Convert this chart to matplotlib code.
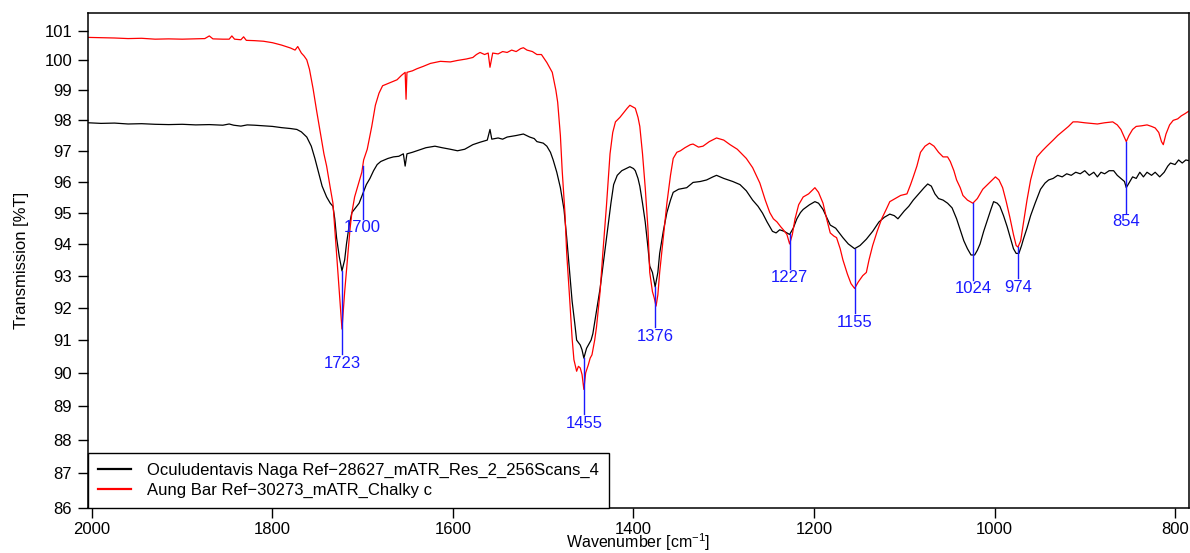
import numpy as np
import matplotlib
matplotlib.use("Agg")
import matplotlib.pyplot as plt
from matplotlib.ticker import NullLocator, FixedLocator, FixedFormatter

# =========================
# DATA
# =========================
BLACK_LABEL = "Oculudentavis Naga Ref\u221228627_mATR_Res_2_256Scans_4"
RED_LABEL = "Aung Bar Ref\u221230273_mATR_Chalky c"

black_wn = [2004, 1990, 1975, 1960, 1945, 1930, 1915, 1900, 1885, 1870, 1855, 1848, 1843, 1835,
            1828, 1820, 1810, 1800, 1790, 1780, 1773, 1768, 1762, 1757, 1753, 1749, 1745, 1740,
            1736, 1733, 1731, 1729, 1726, 1723, 1720, 1718, 1715, 1712, 1708, 1704, 1700, 1696,
            1692, 1688, 1684, 1680, 1676, 1672, 1666, 1660, 1655, 1653, 1651, 1645, 1640, 1630,
            1620, 1612, 1603, 1595, 1587, 1578, 1570, 1562, 1559, 1557, 1550, 1545, 1540, 1530,
            1522, 1515, 1510, 1507, 1500, 1496, 1492, 1489, 1485, 1481, 1477, 1474, 1471, 1468,
            1465, 1463, 1459, 1457, 1455, 1452, 1450, 1447, 1445, 1441, 1437, 1433, 1429, 1425,
            1422, 1418, 1413, 1408, 1404, 1400, 1398, 1395, 1393, 1390, 1387, 1384, 1382, 1379,
            1376, 1373, 1371, 1367, 1363, 1359, 1356, 1350, 1341, 1334, 1326, 1319, 1312, 1308,
            1300, 1290, 1282, 1275, 1268, 1262, 1257, 1252, 1246, 1242, 1238, 1233, 1227, 1223,
            1219, 1215, 1212, 1205, 1199, 1195, 1190, 1186, 1182, 1176, 1168, 1162, 1155, 1149,
            1142, 1135, 1128, 1122, 1116, 1111, 1107, 1100, 1095, 1090, 1084, 1078, 1074, 1070,
            1066, 1062, 1057, 1052, 1047, 1042, 1038, 1034, 1030, 1026, 1022, 1019, 1016, 1012,
            1008, 1004, 1001, 997, 994, 990, 986, 982, 979, 976, 973, 970, 968, 964,
            960, 955, 949, 944, 940, 935, 930, 925, 920, 915, 910, 905, 900, 895,
            890, 886, 882, 878, 873, 868, 864, 860, 856, 854, 851, 847, 843, 839,
            835, 831, 826, 822, 817, 812, 808, 805, 800, 796, 792, 788, 785]
black_t = [97.92, 97.90, 97.91, 97.88, 97.89, 97.87, 97.86, 97.87, 97.85, 97.86, 97.84, 97.88, 97.84, 97.81,
           97.85, 97.84, 97.82, 97.80, 97.76, 97.73, 97.70, 97.62, 97.45, 97.15, 96.75, 96.30, 95.85, 95.50,
           95.30, 95.20, 94.80, 94.20, 93.60, 93.15, 93.50, 94.00, 94.60, 95.00, 95.15, 95.30, 95.60, 95.90,
           96.10, 96.35, 96.55, 96.65, 96.70, 96.75, 96.80, 96.82, 96.90, 96.50, 96.90, 96.95, 97.00, 97.10,
           97.15, 97.10, 97.05, 97.00, 97.05, 97.20, 97.28, 97.35, 97.70, 97.38, 97.42, 97.38, 97.45, 97.50,
           97.55, 97.45, 97.40, 97.30, 97.25, 97.15, 96.95, 96.70, 96.30, 95.80, 95.10, 94.20, 93.20, 92.20,
           91.50, 91.00, 90.85, 90.70, 90.45, 90.75, 90.85, 91.00, 91.20, 91.90, 92.60, 93.50, 94.40, 95.30,
           95.90, 96.20, 96.35, 96.42, 96.48, 96.42, 96.35, 96.10, 95.85, 95.30, 94.70, 93.90, 93.30, 93.10,
           92.65, 93.10, 93.70, 94.40, 95.00, 95.40, 95.65, 95.75, 95.80, 95.97, 96.00, 96.05, 96.15, 96.20,
           96.10, 96.00, 95.90, 95.70, 95.40, 95.20, 94.98, 94.70, 94.40, 94.35, 94.45, 94.40, 94.30, 94.50,
           94.80, 95.00, 95.10, 95.25, 95.35, 95.30, 95.10, 94.85, 94.60, 94.50, 94.20, 94.00, 93.85, 93.95,
           94.15, 94.40, 94.70, 94.85, 94.95, 94.90, 94.80, 95.05, 95.20, 95.40, 95.60, 95.80, 95.92, 95.85,
           95.60, 95.45, 95.40, 95.30, 95.15, 94.80, 94.45, 94.10, 93.85, 93.65, 93.65, 93.80, 94.00, 94.40,
           94.75, 95.10, 95.35, 95.30, 95.20, 94.90, 94.55, 94.15, 93.85, 93.70, 93.70, 93.95, 94.15, 94.50,
           94.90, 95.30, 95.75, 95.95, 96.05, 96.10, 96.20, 96.15, 96.25, 96.20, 96.30, 96.25, 96.35, 96.20,
           96.30, 96.15, 96.30, 96.25, 96.35, 96.35, 96.20, 96.10, 96.00, 95.80, 95.95, 96.15, 96.10, 96.30,
           96.15, 96.30, 96.20, 96.30, 96.15, 96.30, 96.50, 96.60, 96.55, 96.70, 96.60, 96.70, 96.68]

red_wn = [2004, 1990, 1975, 1960, 1945, 1930, 1915, 1900, 1885, 1875, 1870, 1866, 1855, 1848,
          1845, 1842, 1835, 1832, 1829, 1820, 1810, 1800, 1790, 1780, 1775, 1772, 1768, 1765,
          1762, 1759, 1755, 1751, 1747, 1743, 1740, 1736, 1733, 1729, 1726, 1723, 1720, 1717,
          1714, 1712, 1709, 1706, 1703, 1701, 1699, 1695, 1690, 1686, 1682, 1678, 1670, 1662,
          1657, 1653, 1652, 1651, 1645, 1640, 1633, 1625, 1614, 1603, 1595, 1585, 1578, 1574,
          1570, 1565, 1561, 1559, 1556, 1550, 1545, 1540, 1535, 1530, 1525, 1522, 1518, 1512,
          1507, 1502, 1496, 1490, 1486, 1484, 1481, 1479, 1476, 1474, 1471, 1468, 1466, 1463,
          1461, 1459, 1457, 1455, 1453, 1450, 1448, 1446, 1443, 1441, 1437, 1434, 1430, 1426,
          1423, 1420, 1415, 1411, 1407, 1404, 1401, 1398, 1395, 1393, 1390, 1387, 1384, 1382,
          1379, 1377, 1375, 1373, 1371, 1367, 1363, 1359, 1356, 1352, 1348, 1343, 1337, 1334,
          1328, 1323, 1316, 1308, 1300, 1293, 1285, 1275, 1268, 1260, 1254, 1249, 1245, 1241,
          1237, 1234, 1230, 1227, 1224, 1221, 1217, 1212, 1206, 1199, 1195, 1190, 1186, 1182,
          1178, 1175, 1171, 1168, 1163, 1159, 1155, 1151, 1146, 1142, 1139, 1135, 1130, 1125,
          1120, 1116, 1110, 1104, 1097, 1093, 1090, 1086, 1082, 1077, 1072, 1067, 1062, 1057,
          1052, 1049, 1045, 1042, 1038, 1035, 1030, 1024, 1019, 1013, 1006, 999, 995, 991,
          987, 983, 979, 976, 974, 971, 968, 964, 960, 956, 953, 947, 942, 935,
          930, 924, 918, 913, 908, 900, 893, 886, 878, 869, 864, 860, 857, 854,
          851, 847, 843, 837, 831, 826, 822, 818, 815, 813, 810, 806, 802, 797,
          793, 789, 785]
red_t = [100.78, 100.77, 100.76, 100.74, 100.75, 100.72, 100.73, 100.72, 100.73, 100.74, 100.83, 100.73, 100.72, 100.72,
         100.83, 100.72, 100.70, 100.80, 100.68, 100.67, 100.65, 100.60, 100.52, 100.42, 100.35, 100.47, 100.25, 100.15,
         100.02, 99.70, 99.05, 98.30, 97.60, 96.90, 96.50, 95.80, 95.30, 93.70, 92.50, 91.34, 92.50, 93.50,
         94.50, 95.00, 95.50, 95.80, 96.10, 96.30, 96.70, 97.05, 97.80, 98.50, 98.90, 99.15, 99.25, 99.35,
         99.50, 99.60, 98.70, 99.60, 99.65, 99.72, 99.80, 99.90, 99.97, 99.95, 100.00, 100.05, 100.10, 100.20,
         100.27, 100.20, 100.25, 99.77, 100.25, 100.22, 100.30, 100.27, 100.35, 100.30, 100.40, 100.43, 100.35, 100.30,
         100.20, 100.20, 99.93, 99.60, 99.00, 98.60, 97.50, 96.35, 95.00, 93.70, 92.40, 91.05, 90.40, 90.05,
         90.20, 90.15, 89.95, 89.50, 90.00, 90.25, 90.45, 90.55, 91.00, 91.40, 92.50, 93.70, 95.20, 96.90,
         97.60, 97.95, 98.10, 98.25, 98.40, 98.50, 98.45, 98.40, 98.10, 97.80, 96.90, 95.80, 94.50, 93.10,
         92.50, 92.30, 92.05, 92.40, 93.10, 94.20, 95.30, 96.20, 96.75, 96.95, 97.00, 97.10, 97.20, 97.22,
         97.12, 97.15, 97.30, 97.42, 97.35, 97.20, 97.05, 96.75, 96.45, 95.95, 95.40, 95.00, 94.80, 94.70,
         94.55, 94.45, 94.30, 94.00, 94.30, 94.80, 95.25, 95.50, 95.60, 95.80, 95.65, 95.30, 94.80, 94.35,
         94.25, 94.20, 93.85, 93.50, 93.05, 92.75, 92.60, 92.80, 93.00, 93.10, 93.50, 93.95, 94.40, 94.80,
         95.10, 95.35, 95.45, 95.55, 95.60, 95.90, 96.15, 96.50, 96.95, 97.15, 97.25, 97.15, 96.95, 96.80,
         96.80, 96.65, 96.35, 96.05, 95.80, 95.55, 95.40, 95.30, 95.45, 95.75, 95.95, 96.15, 96.05, 95.80,
         95.35, 94.85, 94.30, 93.95, 93.90, 94.10, 94.65, 95.40, 96.05, 96.50, 96.80, 97.00, 97.15, 97.35,
         97.50, 97.65, 97.80, 97.95, 97.95, 97.92, 97.90, 97.88, 97.92, 97.95, 97.85, 97.70, 97.50, 97.30,
         97.50, 97.70, 97.80, 97.82, 97.85, 97.80, 97.75, 97.60, 97.30, 97.20, 97.55, 97.85, 98.00, 98.05,
         98.15, 98.22, 98.30]

peaks = [1723, 1700, 1455, 1376, 1227, 1155, 1024, 974, 854]

y_ticks = list(range(86, 102))
x_ticks = [2000, 1800, 1600, 1400, 1200, 1000, 800]

# =========================
# STYLE
# =========================
plt.rcParams['font.family'] = ['Liberation Sans', 'DejaVu Sans']
plt.rcParams['mathtext.fontset'] = 'custom'
plt.rcParams['mathtext.rm'] = 'Liberation Sans'
plt.rcParams['mathtext.default'] = 'regular'

FS = 12

fig = plt.figure(figsize=(11.9, 5.53), dpi=100)
ax = fig.add_axes([88 / 1190, 1 - 507.7 / 553, (1189 - 88) / 1190, (507.7 - 12.5) / 553])

ax.plot(black_wn, black_t, color='black', lw=0.9, label=BLACK_LABEL)
ax.plot(red_wn, red_t, color='red', lw=0.9, label=RED_LABEL)

ax.set_yscale('log')
ax.set_xlim(2004.4, 784.5)
ax.set_ylim(86, 101.63)

ax.yaxis.set_major_locator(FixedLocator(y_ticks))
ax.yaxis.set_major_formatter(FixedFormatter([str(v) for v in y_ticks]))
ax.yaxis.set_minor_locator(NullLocator())
ax.set_xticks(x_ticks)
ax.set_xticklabels([str(v) for v in x_ticks])

ax.tick_params(axis='both', direction='out', length=7.5, width=1.0, labelsize=FS)
ax.tick_params(axis='y', pad=4)
ax.tick_params(axis='x', pad=2.5)
for s in ax.spines.values():
    s.set_linewidth(1.1)

ax.set_ylabel("Transmission [%T]", fontsize=FS, labelpad=11)
ax.set_xlabel("Wavenumber [cm$^{-1}$]", fontsize=11.5, labelpad=-3.5)

# =========================
# PEAK LABELS
# =========================
bw = np.array(black_wn[::-1], dtype=float)
bt = np.array(black_t[::-1], dtype=float)
rw = np.array(red_wn[::-1], dtype=float)
rt = np.array(red_t[::-1], dtype=float)

inv = ax.transData.inverted()
for p in peaks:
    vb = np.interp(p, bw, bt)
    vr = np.interp(p, rw, rt)
    top = max(vb, vr)
    low = min(vb, vr)
    dx, dy = ax.transData.transform((p, low))
    end = inv.transform((dx, dy - 25))[1]
    txt_y = inv.transform((dx, dy - 34))[1]
    ax.plot([p, p], [top, end], color='#1a1aff', lw=1.0, zorder=3)
    ax.text(p, txt_y, str(p), color='#1a1aff', fontsize=FS, ha='center', va='center')

leg = ax.legend(loc='lower left', borderaxespad=0, fancybox=False, framealpha=1,
                edgecolor='black', fontsize=FS, handlelength=2.0, handletextpad=0.95,
                labelspacing=0.25, borderpad=0.6)
leg.get_frame().set_linewidth(1.0)
for h in leg.get_lines():
    h.set_linewidth(1.6)

fig.savefig("out.png", dpi=100)
